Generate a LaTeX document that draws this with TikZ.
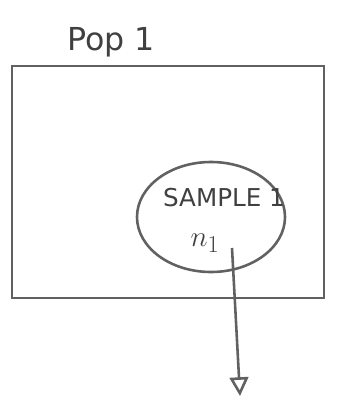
\documentclass[tikz,border=0pt]{standalone}
\usepackage{fontspec}
\setmainfont{DejaVu Sans}
\usepackage{tikz}
\usetikzlibrary{arrows.meta, positioning, shapes.geometric}

\begin{document}
\begin{tikzpicture}[
    x=0.03cm, y=-0.03cm,
    pen/.style   ={draw=black!62, line width=2.2pt},
    popbox/.style={pen, rectangle, minimum width=9.36cm, minimum height=6.96cm, inner sep=0pt},
    smpl/.style  ={pen, ellipse, minimum width=4.44cm, minimum height=3.3cm, inner sep=0pt},
    lbl/.style   ={text=black!75, inner sep=0pt}
  ]
  \useasboundingbox (0,0) rectangle (343,402);

  %% ---- population ----------------------------------------------------
  \node[lbl, font=\fontsize{27}{30}\selectfont] (poplbl) at (111,42) {Pop 1};
  \node[popbox] (pop) at (168,182) {};

  %% ---- sample --------------------------------------------------------
  \node[smpl] (sample) at (211,217) {};
  \node[lbl, font=\fontsize{21}{24}\selectfont] (smplbl) at (224,198) {SAMPLE 1};
  \node[lbl, font=\fontsize{30}{34}\selectfont] (size) at (205,243) {$n_1$};

  %% ---- arrow out -----------------------------------------------------
  \coordinate (tail) at (232,248);
  \coordinate (head) at (240,396);
  \draw[pen, -{Triangle[open, length=16pt, width=16pt]}] (tail) -- (head);

\end{tikzpicture}
\end{document}
